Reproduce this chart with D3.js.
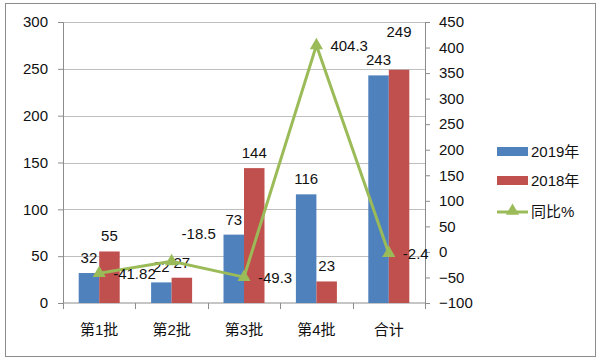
<!DOCTYPE html>
<html>
<head>
<meta charset="utf-8">
<script src="https://cdn.jsdelivr.net/npm/d3@7"></script>
<style>
  body { margin: 0; background: #fff; }
  svg text { font-family: "Liberation Sans", "Noto Sans CJK SC", sans-serif; font-size: 15px; fill: #111; }
</style>
</head>
<body>
<svg id="chart" width="600" height="361"></svg>
<script>
const categories = ['第1批', '第2批', '第3批', '第4批', '合计'];
const values2019 = [32, 22, 73, 116, 243];
const values2018 = [55, 27, 144, 23, 249];
const yoy = [-41.82, -18.5, -49.3, 404.3, -2.4];
const leftTicks = [0, 50, 100, 150, 200, 250, 300];
const rightTicks = [-100, -50, 0, 50, 100, 150, 200, 250, 300, 350, 400, 450];

const svg = d3.select('#chart');
const margin = { left: 63, right: 175, top: 22, bottom: 58 };
const width = 600 - margin.left - margin.right;
const height = 361 - margin.top - margin.bottom;

// outer frame
svg.append('rect')
  .attr('x', 5.5).attr('y', 3.5).attr('width', 590).attr('height', 353)
  .attr('fill', 'none').attr('stroke', '#8c8c8c');

const g = svg.append('g').attr('transform', `translate(${margin.left},${margin.top})`);

const x = d3.scaleBand().domain(categories).range([0, width]);
const x1 = d3.scaleBand().domain(['2019', '2018']).range([0, 41]);
const y = d3.scaleLinear().domain([0, 300]).range([height, 0]);
const y2 = d3.scaleLinear().domain([-100, 450]).range([height, 0]);

// gridlines
g.selectAll('.grid').data(leftTicks.filter(d => d > 0)).enter().append('line')
  .attr('x1', 0).attr('x2', width)
  .attr('y1', d => Math.round(y(d)) + 0.5).attr('y2', d => Math.round(y(d)) + 0.5)
  .attr('stroke', '#bfbfbf');

function styleAxis(sel) {
  sel.select('.domain').attr('stroke', '#8c8c8c');
  sel.selectAll('.tick line').attr('stroke', '#8c8c8c');
}

g.append('g')
  .call(d3.axisLeft(y).tickValues(leftTicks).tickSize(5).tickPadding(10))
  .call(styleAxis)
  .call(s => s.selectAll('text').attr('font-size', null));

g.append('g').attr('transform', `translate(${width},0)`)
  .call(d3.axisRight(y2).tickValues(rightTicks).tickSize(5).tickPadding(9))
  .call(styleAxis)
  .call(s => s.selectAll('text').attr('font-size', null));

// category axis with ticks at band edges
const xa = g.append('g').attr('transform', `translate(0,${height})`);
xa.append('line').attr('x1', 0).attr('x2', width).attr('stroke', '#8c8c8c');
xa.selectAll('.edge').data(d3.range(categories.length + 1)).enter().append('line')
  .attr('x1', i => Math.round(i * x.step()) + 0.5).attr('x2', i => Math.round(i * x.step()) + 0.5)
  .attr('y1', 0).attr('y2', 6).attr('stroke', '#8c8c8c');
xa.selectAll('.cat').data(categories).enter().append('text')
  .attr('x', d => x(d) + x.bandwidth() / 2).attr('y', 32)
  .attr('text-anchor', 'middle').text(d => d);

// bars
const series = [
  { key: '2019', values: values2019, color: '#4f81bd', name: '2019年' },
  { key: '2018', values: values2018, color: '#c0504d', name: '2018年' }
];
const labelLift = { '2018-4': 33 };

series.forEach(s => {
  const off = x.bandwidth() / 2 - 20.5 + x1(s.key);
  g.selectAll(`.bar${s.key}`).data(s.values).enter().append('rect')
    .attr('x', (d, i) => x(categories[i]) + off)
    .attr('y', d => y(d))
    .attr('width', x1.bandwidth())
    .attr('height', d => height - y(d))
    .attr('fill', s.color);
  g.selectAll(`.lab${s.key}`).data(s.values).enter().append('text')
    .attr('x', (d, i) => x(categories[i]) + off + x1.bandwidth() / 2)
    .attr('y', (d, i) => y(d) - (labelLift[`${s.key}-${i}`] || 10))
    .attr('text-anchor', 'middle').text(d => d);
});

// line
const cx = i => x(categories[i]) + x.bandwidth() / 2;
const line = d3.line().x((d, i) => cx(i)).y(d => y2(d));
g.append('path').datum(yoy).attr('d', line)
  .attr('fill', 'none').attr('stroke', '#9bbb59').attr('stroke-width', 3);

const tri = d3.symbol().type(d3.symbolTriangle).size(75);
g.selectAll('.mk').data(yoy).enter().append('path')
  .attr('d', tri).attr('fill', '#9bbb59')
  .attr('transform', (d, i) => `translate(${cx(i)},${y2(d)})`);

const lineLabelOffset = { 1: [10, -27] };
g.selectAll('.ll').data(yoy).enter().append('text')
  .attr('x', (d, i) => cx(i) + (lineLabelOffset[i] ? lineLabelOffset[i][0] : 14))
  .attr('y', (d, i) => y2(d) + 5 + (lineLabelOffset[i] ? lineLabelOffset[i][1] : 1))
  .text(d => d);

// legend
const lg = svg.append('g').attr('transform', 'translate(497,0)');
series.forEach((s, i) => {
  lg.append('rect').attr('x', 0).attr('y', 147 + i * 29).attr('width', 31).attr('height', 9).attr('fill', s.color);
  lg.append('text').attr('x', 34).attr('y', 157 + i * 29).text(s.name);
});
lg.append('line').attr('x1', 0).attr('x2', 31).attr('y1', 212).attr('y2', 212)
  .attr('stroke', '#9bbb59').attr('stroke-width', 3);
lg.append('path').attr('d', tri).attr('fill', '#9bbb59').attr('transform', 'translate(15.5,211)');
lg.append('text').attr('x', 34).attr('y', 217).text('同比%');
</script>
</body>
</html>
